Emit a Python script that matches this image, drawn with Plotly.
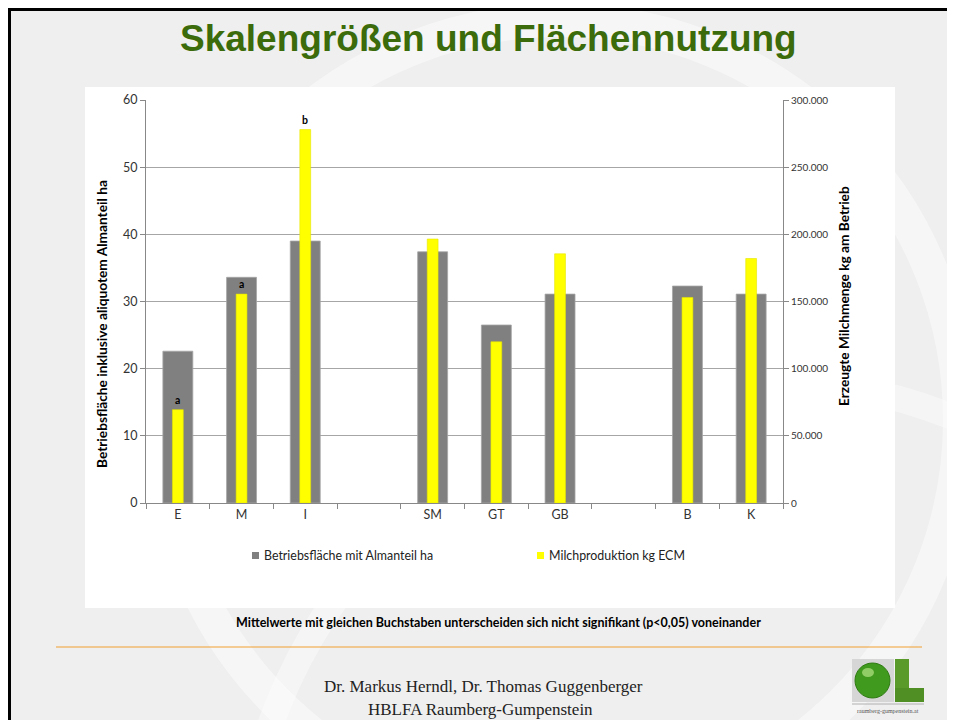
import plotly.graph_objects as go

# Gruppen (leere Kategorien = Abstand zwischen den Gruppen)
categories = ["E", "M", "I", " ", "SM", "GT", "GB", "  ", "B", "K"]
flaeche_ha = [22.6, 33.6, 39.0, None, 37.4, 26.5, 31.1, None, 32.3, 31.1]
milch_kg = [69500, 155500, 278000, None, 196500, 120000, 185500, None, 153000, 182000]
signif = ["a", "a", "b", "", "", "", "", "", "", ""]

left_ticks = [0, 10, 20, 30, 40, 50, 60]
right_ticks = [0, 50000, 100000, 150000, 200000, 250000, 300000]

name_flaeche = "Betriebsfläche mit Almanteil ha"
name_milch = "Milchproduktion kg ECM"

W, H = 955, 720
OFF = 8  # page body margin
L, R, T, B = 146, 783, 100, 503  # plot area in screen px


def px(x):
    return (x - L) / (R - L)


def py(y):
    return (B - y) / (B - T)


def note(text, x, y, size, family=None, color="black", angle=0, xanchor="center"):
    return dict(text=text, xref="paper", yref="paper", x=px(x), y=py(y), showarrow=False,
                xanchor=xanchor, yanchor="middle", textangle=angle,
                font=dict(family=family or FONT, size=size, color=color))


FONT = "Lato, Carlito, Calibri, sans-serif"
SERIF = "Liberation Serif, Times New Roman, serif"
GREY = "#808080"
YELLOW = "#ffff00"

fig = go.Figure()
fig.add_trace(go.Bar(x=categories, y=flaeche_ha, name=name_flaeche, width=0.47,
                     marker=dict(color=GREY, line=dict(color="#a6a6a6", width=0.8)),
                     yaxis="y", showlegend=False))
fig.add_trace(go.Bar(x=categories, y=milch_kg, name=name_milch, width=0.17,
                     marker=dict(color=YELLOW, line=dict(color="#e6e600", width=0.6)),
                     yaxis="y2", showlegend=False))

shapes = []
# decorative background swooshes
shapes.append(dict(type="circle", xref="paper", yref="paper", layer="below",
                   x0=px(560 - 400), x1=px(560 + 400), y0=py(420 + 400), y1=py(420 - 400),
                   line=dict(color="rgba(255,255,255,0.45)", width=34)))
shapes.append(dict(type="circle", xref="paper", yref="paper", layer="below",
                   x0=px(760 - 520), x1=px(760 + 520), y0=py(900 + 520), y1=py(900 - 520),
                   line=dict(color="rgba(255,255,255,0.4)", width=26)))
# white chart box
shapes.append(dict(type="rect", xref="paper", yref="paper", layer="below",
                   x0=px(85), x1=px(895), y0=py(608), y1=py(87),
                   fillcolor="white", line=dict(width=0)))
# black frame
shapes.append(dict(type="line", xref="paper", yref="paper", x0=px(8), x1=px(970), y0=py(9.5), y1=py(9.5),
                   line=dict(color="black", width=3)))
shapes.append(dict(type="line", xref="paper", yref="paper", x0=px(9.5), x1=px(9.5), y0=py(8), y1=py(740),
                   line=dict(color="black", width=3)))
# orange separator
shapes.append(dict(type="line", xref="paper", yref="paper", x0=px(56), x1=px(922), y0=py(647), y1=py(647),
                   line=dict(color="#f0a030", width=1.2)))
# legend squares
shapes.append(dict(type="rect", xref="paper", yref="paper", x0=px(252), x1=px(259), y0=py(559), y1=py(552),
                   fillcolor=GREY, line=dict(width=0)))
shapes.append(dict(type="rect", xref="paper", yref="paper", x0=px(537), x1=px(544), y0=py(559), y1=py(552),
                   fillcolor=YELLOW, line=dict(width=0)))
# logo
shapes.append(dict(type="rect", xref="paper", yref="paper", x0=px(852), x1=px(894), y0=py(702), y1=py(659),
                   fillcolor="#d6d6d6", line=dict(width=0)))
shapes.append(dict(type="circle", xref="paper", yref="paper", x0=px(855), x1=px(890), y0=py(698), y1=py(663),
                   fillcolor="#3f9a1e", line=dict(color="#2f7a12", width=1)))
shapes.append(dict(type="circle", xref="paper", yref="paper", x0=px(862), x1=px(874), y0=py(677), y1=py(668),
                   fillcolor="rgba(200,240,150,0.6)", line=dict(width=0)))
shapes.append(dict(type="rect", xref="paper", yref="paper", x0=px(895), x1=px(909), y0=py(702), y1=py(659),
                   fillcolor="#5a9a2a", line=dict(width=0)))
shapes.append(dict(type="rect", xref="paper", yref="paper", x0=px(895), x1=px(924), y0=py(702), y1=py(688),
                   fillcolor="#4f8f24", line=dict(width=0)))
shapes.append(dict(type="line", xref="paper", yref="paper", x0=px(852), x1=px(924), y0=py(704), y1=py(704),
                   line=dict(color="#b0b0b0", width=1)))

annotations = [
    note("<b>Skalengrößen und Flächennutzung</b>", 488, 38, 37,
         family="Liberation Sans Narrow, Arial Narrow, Liberation Sans, sans-serif", color="#3b6b0a"),
    note("<b>Betriebsfläche inklusive aliquotem Almanteil ha</b>", 101, 324, 13.7, angle=-90),
    note("<b>Erzeugte Milchmenge kg am Betrieb</b>", 843, 296, 13.7, angle=-90),
    note(name_flaeche, 262, 555.5, 12.4, color="#222", xanchor="left"),
    note(name_milch, 547, 555.5, 12.4, color="#222", xanchor="left"),
    note("<b>Mittelwerte mit gleichen Buchstaben unterscheiden sich nicht signifikant (p<0,05) voneinander</b>",
         498, 622, 12.5),
    note("Dr. Markus Herndl, Dr. Thomas Guggenberger", 483, 686, 17, family=SERIF, color="#222"),
    note("HBLFA Raumberg-Gumpenstein", 480, 709, 17, family=SERIF, color="#222"),
    note("raumberg-gumpenstein.at", 888, 711, 6, family=SERIF, color="#555"),
]

# Signifikanzbuchstaben über den Milch-Balken
for cat, val, letter in zip(categories, milch_kg, signif):
    if letter and val is not None:
        annotations.append(dict(text=f"<b>{letter}</b>", x=cat, y=val, xref="x", yref="y2",
                                xanchor="center", yanchor="bottom", yshift=2, showarrow=False,
                                font=dict(family=FONT, size=10.5, color="black")))

fig.update_layout(
    width=W, height=H,
    margin=dict(l=L - OFF, r=W - (R - OFF), t=T - OFF, b=H - (B - OFF), pad=0),
    paper_bgcolor="#efefef",
    plot_bgcolor="white",
    barmode="overlay",
    separators=",.",
    font=dict(family=FONT, size=12, color="#333"),
    shapes=shapes,
    annotations=annotations,
    xaxis=dict(type="category", categoryorder="array", categoryarray=categories,
               tickson="boundaries", ticks="outside", ticklen=5, tickcolor="#888",
               showline=True, linecolor="#888", linewidth=1, showgrid=False,
               tickfont=dict(size=12.5, color="#333")),
    yaxis=dict(range=[0, 60], tickvals=left_ticks, ticks="outside", ticklen=5, tickcolor="#888",
               showline=True, linecolor="#888", linewidth=1,
               showgrid=True, gridcolor="#a6a6a6", gridwidth=1, zeroline=False,
               tickfont=dict(size=12.5, color="#333")),
    yaxis2=dict(range=[0, 300000], tickvals=right_ticks, tickformat=",d", overlaying="y", side="right",
                ticks="outside", ticklen=5, tickcolor="#888",
                showline=True, linecolor="#888", linewidth=1, showgrid=False, zeroline=False,
                tickfont=dict(size=10, color="#333")),
)

fig.write_html("out.html")
